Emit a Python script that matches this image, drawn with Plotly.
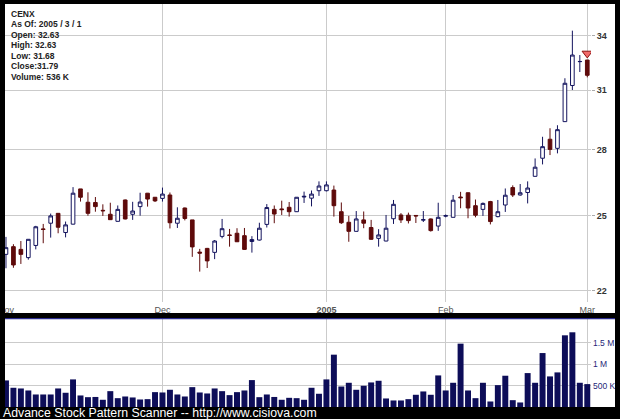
import plotly.graph_objects as go

# ---------------- data (CENX daily, Nov 2004 - Mar 1 2005) ----------------
session = list(range(79))  # trading-session index (x category)

opens = [23.41, 23.72, 23.61, 23.28, 23.77, 24.45, 24.69, 25.11, 24.30, 24.65,
         26.18, 25.59, 25.58, 25.24, 25.07, 24.77, 25.69, 25.07, 25.40, 25.99,
         25.81, 25.76, 25.91, 24.69, 25.34, 24.83, 23.50, 23.65, 23.49, 24.14,
         24.20, 24.27, 24.17, 23.93, 23.99, 24.64, 25.28, 25.30, 25.37, 25.18,
         25.82, 25.77, 26.10, 26.10, 26.13, 25.18, 24.73, 24.35, 24.83, 24.51,
         24.06, 23.95, 24.88, 25.04, 25.03, 25.02, 24.82, 24.87, 24.57, 24.99,
         24.94, 25.82, 26.01, 25.44, 25.28, 25.62, 24.97, 25.47, 26.24, 25.91,
         26.02, 26.75, 27.59, 28.50, 28.06, 29.37, 31.24, 32.54, 32.63]
highs = [24.12, 23.82, 23.95, 24.03, 24.58, 24.66, 25.10, 25.12, 24.76, 26.26,
         26.18, 26.03, 25.82, 25.50, 25.57, 25.45, 25.71, 25.61, 26.01, 26.00,
         25.82, 26.24, 26.02, 25.37, 25.36, 24.83, 23.63, 23.67, 23.99, 24.87,
         24.45, 24.48, 24.49, 24.15, 24.71, 25.51, 25.45, 25.66, 25.60, 25.82,
         26.06, 26.11, 26.52, 26.52, 26.33, 25.58, 25.00, 25.21, 25.19, 24.83,
         24.44, 25.04, 25.69, 25.12, 25.14, 25.02, 25.21, 24.89, 25.57, 25.06,
         25.91, 26.05, 26.02, 25.71, 25.58, 25.65, 25.69, 26.20, 26.34, 26.40,
         26.52, 27.58, 28.62, 29.04, 29.19, 31.63, 34.31, 32.91, 32.63]
lows = [22.86, 22.88, 23.03, 23.20, 23.61, 23.86, 24.09, 24.27, 24.10, 24.64,
        25.62, 25.01, 25.18, 25.00, 24.83, 24.76, 24.85, 24.83, 25.01, 25.40,
        25.60, 25.62, 24.47, 24.49, 24.81, 23.31, 22.73, 22.87, 23.22, 24.06,
        23.72, 23.91, 23.59, 23.48, 23.97, 24.51, 24.69, 25.04, 24.97, 25.17,
        25.56, 25.41, 25.87, 26.07, 24.97, 24.66, 23.92, 24.34, 24.48, 24.00,
        23.72, 23.94, 24.66, 24.70, 24.68, 24.70, 24.74, 24.34, 24.37, 24.94,
        24.94, 25.33, 24.90, 24.94, 25.00, 24.64, 24.94, 25.17, 25.82, 25.88,
        25.54, 26.74, 27.30, 27.74, 27.82, 29.36, 31.00, 31.97, 31.68]
closes = [23.68, 22.99, 23.41, 24.02, 24.54, 24.43, 25.00, 24.52, 24.62, 25.99,
          25.81, 25.11, 25.40, 25.22, 24.84, 25.28, 24.87, 25.21, 25.60, 25.73,
          25.65, 25.95, 24.71, 24.90, 24.89, 23.71, 23.46, 23.15, 23.95, 24.46,
          24.18, 23.92, 23.61, 24.01, 24.48, 25.36, 25.08, 25.27, 25.18, 25.81,
          25.85, 25.95, 26.31, 26.36, 25.44, 24.71, 24.35, 24.87, 24.69, 24.02,
          24.20, 24.48, 25.50, 24.83, 24.80, 25.00, 24.84, 24.38, 24.94, 25.01,
          25.68, 25.79, 25.34, 25.03, 25.54, 24.76, 25.18, 25.90, 25.91, 26.01,
          26.22, 27.17, 28.14, 28.01, 28.97, 31.36, 32.91, 32.55, 31.79]
volumes = [622000, 450000, 434000, 387000, 293000, 293000, 293000, 434000, 333000, 646000,
           270000, 230000, 235000, 169000, 371000, 207000, 246000, 223000, 176000, 184000,
           348000, 340000, 403000, 293000, 246000, 465000, 340000, 317000, 434000, 371000,
           278000, 348000, 387000, 630000, 230000, 293000, 235000, 169000, 215000, 207000,
           169000, 450000, 310000, 646000, 1225000, 480000, 567000, 403000, 497000, 575000,
           614000, 200000, 153000, 153000, 184000, 286000, 364000, 286000, 739000, 387000,
           567000, 1483000, 387000, 207000, 567000, 129000, 512000, 732000, 160000, 106000,
           794000, 567000, 1263000, 716000, 810000, 1678000, 1749000, 567000, 536000]

month_tick_sessions = [0, 21, 43, 59, 78]
month_tick_labels = ["Nov", "Dec", "<b>2005</b>", "Feb", "Mar"]
price_ticks = [22, 25, 28, 31, 34]
volume_ticks = [500000, 1000000, 1500000]
volume_tick_labels = ["500 K", "1 M", "1.5 M"]

signal_session = [78]
signal_price = [33.0]

info_lines = ["CENX", "As Of: 2005 / 3 / 1", "Open: 32.63", "High: 32.63",
              "Low: 31.68", "Close:31.79", "Volume: 536 K"]
footer_text = "Advance Stock Pattern Scanner -- http://www.cisiova.com"

# ---------------- figure ----------------
W, H = 620, 419
ML, MR, MT, MB = 5, 29, 4, 12
PW, PH = W - ML - MR, H - MT - MB


def px_x(px):
    return (px - ML) / PW


def px_y(py):
    return (H - MB - py) / PH


NAVY = "#14145e"
MAROON = "#5e0a0a"
GRID = "#cbcbcb"

fig = go.Figure()

fig.add_trace(go.Candlestick(
    x=session, open=opens, high=highs, low=lows, close=closes,
    xaxis="x", yaxis="y",
    increasing=dict(fillcolor="#ffffff", line=dict(color=NAVY, width=1)),
    decreasing=dict(fillcolor=MAROON, line=dict(color=MAROON, width=1)),
    whiskerwidth=0, hoverinfo="skip",
))

fig.add_trace(go.Scatter(
    x=signal_session, y=signal_price, mode="markers", xaxis="x", yaxis="y",
    marker=dict(symbol="triangle-down", size=9, color="#f26b6b",
                line=dict(color="#8a1010", width=1)),
    hoverinfo="skip",
))

fig.add_trace(go.Bar(
    x=session, y=volumes, xaxis="x2", yaxis="y2",
    marker=dict(color="#0d0d58", line=dict(width=0)), hoverinfo="skip",
))

price_top, price_bot = 4, 302
vol_top, vol_bot = 319, 407

common_x = dict(range=[-0.13, 78.5], tickmode="array", tickvals=month_tick_sessions,
                showgrid=True, gridcolor=GRID, gridwidth=1, zeroline=False,
                showline=False, ticks="", automargin=False,
                rangeslider=dict(visible=False))

fig.update_layout(
    width=W, height=H,
    margin=dict(l=ML, r=MR, t=MT, b=MB, autoexpand=False),
    paper_bgcolor="#000000", plot_bgcolor="#ffffff",
    showlegend=False, bargap=0.2,
    font=dict(family="Arial, Liberation Sans, sans-serif"),
    xaxis=dict(common_x, anchor="y", domain=[0, 1], ticktext=month_tick_labels,
               tickfont=dict(size=9, color="#555555"), ticklabelstandoff=1,
               ticklabeloverflow="allow"),
    yaxis=dict(domain=[px_y(price_bot), px_y(price_top)], type="log",
               range=[1.33405, 1.55521], side="right", anchor="x", automargin=False,
               tickmode="array", tickvals=price_ticks, ticktext=[str(v) for v in price_ticks],
               showgrid=True, gridcolor=GRID, zeroline=False, showline=False,
               ticks="outside", ticklen=3, tickcolor="#aaaaaa",
               tickfont=dict(size=9, color="#333333", weight="bold")),
    xaxis2=dict(common_x, anchor="y2", domain=[0, 1], matches="x", showticklabels=False),
    yaxis2=dict(domain=[px_y(vol_bot), px_y(vol_top)], range=[0, 2060000], side="right",
                anchor="x2", automargin=False, tickmode="array", tickvals=volume_ticks,
                ticktext=volume_tick_labels,
                showgrid=True, gridcolor=GRID, zeroline=False, showline=False,
                ticks="", ticklabelstandoff=1, ticklabeloverflow="allow",
                tickfont=dict(size=8.5, color="#1f1f78")),
)

shapes = [
    # white panels
    dict(type="rect", xref="paper", yref="paper", layer="below",
         x0=px_x(5), x1=px_x(615), y0=px_y(313), y1=px_y(4),
         fillcolor="#ffffff", line=dict(width=0)),
    dict(type="rect", xref="paper", yref="paper", layer="below",
         x0=px_x(5), x1=px_x(615), y0=px_y(407), y1=px_y(319),
         fillcolor="#ffffff", line=dict(width=0)),
    # info box background
    dict(type="rect", xref="x domain", yref="y domain", layer="below",
         x0=0, x1=(62 - ML) / PW, y0=(price_bot - 83) / (price_bot - price_top), y1=1,
         fillcolor="#ffffff", line=dict(width=0)),
    # separator line
    dict(type="line", xref="paper", yref="paper", layer="above",
         x0=px_x(5), x1=px_x(615), y0=px_y(318.6), y1=px_y(318.6),
         line=dict(color="#2b2b8e", width=1.2)),
    # black frame edges
    dict(type="rect", xref="paper", yref="paper", layer="above",
         x0=px_x(0), x1=px_x(5), y0=px_y(419), y1=px_y(0),
         fillcolor="#000000", line=dict(width=0)),
    dict(type="rect", xref="paper", yref="paper", layer="above",
         x0=px_x(615), x1=px_x(620), y0=px_y(419), y1=px_y(0),
         fillcolor="#000000", line=dict(width=0)),
]
fig.update_layout(shapes=shapes)

line_centers = [14.2, 24.5, 35.0, 45.3, 55.8, 66.2, 77.0]
annotations = []
for txt, cy in zip(info_lines, line_centers):
    annotations.append(dict(
        text=txt, xref="paper", yref="paper", x=px_x(10), y=px_y(cy),
        xanchor="left", yanchor="middle", showarrow=False, borderpad=0,
        font=dict(size=8.5, color="#222222", weight="bold"),
    ))
annotations.append(dict(
    text=footer_text, xref="paper", yref="paper", x=px_x(2), y=px_y(412.8),
    xanchor="left", yanchor="middle", showarrow=False, borderpad=0,
    font=dict(size=12.3, color="#ffffff", family="Arial, Liberation Sans, sans-serif"),
))
fig.update_layout(annotations=annotations)

fig.write_html(
    "out.html",
    config={"displayModeBar": False},
    post_script="document.body.style.margin='0';document.body.style.padding='0';"
                "document.body.style.background='#000';",
)
